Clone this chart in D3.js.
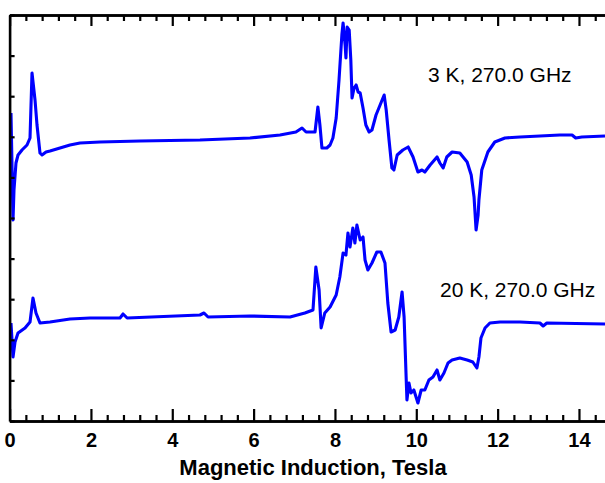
<!DOCTYPE html>
<html>
<head>
<meta charset="utf-8">
<script src="https://cdn.jsdelivr.net/npm/d3@7"></script>
<style>
  body { margin: 0; background: #fff; }
  svg { font-family: "Liberation Sans", Arial, sans-serif; }
</style>
</head>
<body>
<div id="chart"></div>
<script>
// field in Tesla, signal in arbitrary units
const field3K = [0.034, 0.047, 0.084, 0.108, 0.157, 0.207, 0.305, 0.428, 0.502, 0.551, 0.625, 0.674, 0.747, 0.797, 0.895, 0.993, 1.239, 1.485, 1.731, 2.223, 3.206, 4.681, 5.911, 6.649, 7.04, 7.19, 7.29, 7.51, 7.58, 7.63, 7.68, 7.80, 7.88, 7.95, 8.03, 8.10, 8.17, 8.20, 8.25, 8.27, 8.30, 8.35, 8.39, 8.42, 8.47, 8.52, 8.57, 8.62, 8.69, 8.76, 8.84, 8.91, 9.01, 9.11, 9.21, 9.26, 9.33, 9.40, 9.45, 9.53, 9.67, 9.80, 9.92, 10.04, 10.14, 10.21, 10.34, 10.51, 10.58, 10.66, 10.75, 10.88, 11.07, 11.25, 11.35, 11.42, 11.47, 11.52, 11.54, 11.61, 11.76, 11.93, 12.18, 12.55, 13.04, 13.53, 13.83, 13.92, 14.07, 14.64]
const signal3K = [308, 281, 201, 231, 258, 266, 271, 276, 283, 348, 321, 296, 268, 266, 269, 270, 273, 276, 278, 279, 280, 281, 283, 286, 289, 293, 289, 289, 314, 296, 273, 273, 276, 283, 303, 341, 386, 398, 376, 363, 394, 391, 361, 323, 333, 336, 329, 328, 313, 296, 289, 291, 306, 316, 326, 311, 281, 253, 251, 266, 271, 274, 264, 249, 251, 249, 256, 264, 258, 253, 264, 269, 268, 259, 246, 224, 191, 206, 221, 251, 269, 279, 283, 284, 285, 286, 286, 283, 284, 285]

const field20K = [0.034, 0.059, 0.084, 0.133, 0.207, 0.379, 0.502, 0.575, 0.649, 0.747, 0.993, 1.485, 1.977, 2.715, 2.79, 2.89, 4.681, 4.78, 4.88, 5.911, 6.895, 7.26, 7.46, 7.53, 7.61, 7.66, 7.75, 7.88, 8.03, 8.12, 8.20, 8.27, 8.32, 8.37, 8.44, 8.49, 8.54, 8.62, 8.69, 8.74, 8.81, 8.91, 9.03, 9.13, 9.23, 9.30, 9.38, 9.48, 9.57, 9.65, 9.70, 9.75, 9.77, 9.82, 9.87, 9.94, 10.04, 10.12, 10.21, 10.31, 10.41, 10.51, 10.58, 10.68, 10.78, 10.88, 11.07, 11.25, 11.39, 11.49, 11.54, 11.59, 11.69, 11.81, 12.06, 12.55, 13.04, 13.12, 13.21, 14.64]
const signal20K = [98, 81, 64, 79, 88, 93, 99, 123, 108, 98, 99, 102, 103, 103, 107, 103, 106, 108, 104, 105, 104, 108, 111, 154, 131, 93, 108, 114, 126, 144, 168, 166, 188, 174, 193, 178, 196, 181, 184, 161, 151, 158, 169, 169, 158, 118, 89, 91, 104, 129, 104, 44, 21, 38, 28, 31, 18, 31, 31, 41, 44, 51, 41, 48, 58, 61, 63, 61, 59, 53, 64, 83, 93, 98, 99, 99, 98, 95, 98, 97]

const majorTicks = [0, 2, 4, 6, 8, 10, 12, 14]
const minorTicks = d3.range(0, 14.7, 0.4).filter((t) => Math.abs(t / 2 - Math.round(t / 2)) > 0.01)
const yTicks = d3.range(0, 407, 40.6)

const spectra = [
  { name: "3 K, 270.0 GHz", field: field3K, signal: signal3K, labelX: 428, labelY: 82 },
  { name: "20 K, 270.0 GHz", field: field20K, signal: signal20K, labelX: 440, labelY: 297 }
]

const W = 605
const H = 483

const svg = d3.select("#chart").append("svg")
  .attr("width", W)
  .attr("height", H)

const x = d3.scaleLinear().domain([0, 14.64]).range([9.6, 605])
const y = d3.scaleLinear().domain([0, 406]).range([421, 15])

// curves
const line = d3.line()
  .x((d) => x(d[0]))
  .y((d) => y(d[1]))

spectra.forEach((s) => {
  svg.append("path")
    .datum(s.field.map((f, i) => [f, s.signal[i]]))
    .attr("fill", "none")
    .attr("stroke", "#0000ff")
    .attr("stroke-width", 3.1)
    .attr("stroke-linejoin", "round")
    .attr("d", line)

  svg.append("text")
    .attr("x", s.labelX)
    .attr("y", s.labelY)
    .attr("font-size", "21px")
    .attr("fill", "#000")
    .text(s.name)
})

// axes
function styleAxis(g) {
  g.select(".domain").attr("stroke", "#000").attr("stroke-width", 2.6)
  g.selectAll(".tick line").attr("stroke", "#000").attr("stroke-width", 2.2)
}

svg.append("g")
  .attr("transform", `translate(0,${y(0)})`)
  .call(d3.axisBottom(x).tickValues(minorTicks).tickSizeInner(-6).tickSizeOuter(0).tickFormat(""))
  .call(styleAxis)

svg.append("g")
  .attr("transform", `translate(0,${y(0)})`)
  .call(d3.axisBottom(x).tickValues(majorTicks).tickSizeInner(-12).tickSizeOuter(0).tickPadding(12).tickFormat(d3.format("d")))
  .call(styleAxis)
  .selectAll("text")
  .attr("font-size", "20px")
  .attr("font-weight", "bold")
  .attr("fill", "#000")

svg.append("g")
  .attr("transform", `translate(0,${y(406)})`)
  .call(d3.axisTop(x).tickValues(minorTicks).tickSizeInner(-6).tickSizeOuter(0).tickFormat(""))
  .call(styleAxis)

svg.append("g")
  .attr("transform", `translate(0,${y(406)})`)
  .call(d3.axisTop(x).tickValues(majorTicks).tickSizeInner(-11).tickSizeOuter(0).tickFormat(""))
  .call(styleAxis)

svg.append("g")
  .attr("transform", `translate(${x(0)},0)`)
  .call(d3.axisLeft(y).tickValues(yTicks).tickSizeInner(-5).tickSizeOuter(0).tickFormat(""))
  .call(styleAxis)

svg.append("text")
  .attr("x", 313)
  .attr("y", 475)
  .attr("text-anchor", "middle")
  .attr("font-size", "22px")
  .attr("font-weight", "bold")
  .attr("fill", "#000")
  .text("Magnetic Induction, Tesla")
</script>
</body>
</html>
